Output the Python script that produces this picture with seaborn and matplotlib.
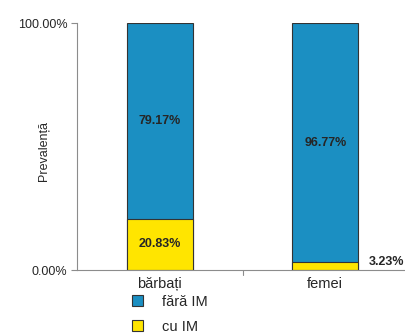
import matplotlib
matplotlib.use("Agg")
import matplotlib.pyplot as plt
from matplotlib.patches import Patch
import seaborn as sns
import pandas as pd

categories = ["bărbați", "femei"]
cu_im = [20.83, 3.23]
fara_im = [79.17, 96.77]
series_names = ["fără IM", "cu IM"]
y_ticks = [0, 100]
y_tick_labels = ["0.00%", "100.00%"]

blue = "#1b8fc2"
yellow = "#ffe500"
edge = "#333333"
axis_gray = "#8c8c8c"

sns.set_style("white")
plt.rcParams["font.family"] = ["Liberation Sans", "DejaVu Sans"]

df = pd.DataFrame({"cat": categories, "cu": cu_im, "fara": fara_im})
df["total"] = df["cu"] + df["fara"]

fig = plt.figure(figsize=(4.06, 3.34), dpi=100)
ax = fig.add_axes([0.19, 0.1916, 0.815, 0.7395])

sns.barplot(data=df, x="cat", y="total", color=blue, width=0.4,
            edgecolor=edge, linewidth=0.8, saturation=1, ax=ax)
sns.barplot(data=df, x="cat", y="cu", color=yellow, width=0.4,
            edgecolor=edge, linewidth=0.8, saturation=1, ax=ax)

ax.set_xlim(-0.5, 1.5)
ax.set_ylim(0, 100)
ax.set_yticks(y_ticks)
ax.set_yticklabels(y_tick_labels, fontsize=9)
ax.set_xticks([0, 1])
ax.set_xticklabels(categories, fontsize=10.5)
ax.tick_params(axis="x", length=0, pad=5)
ax.tick_params(axis="y", length=4, color=axis_gray, width=0.8, pad=3, left=True)
ax.set_xlabel("")
ax.set_ylabel("Prevalență", fontsize=9)
ax.yaxis.set_label_coords(-0.082, 0.48)

# separator tick between the two categories on the category axis
ax.plot([0.5, 0.5], [0, -2], color=axis_gray, lw=0.8, clip_on=False)

for s in ["top", "right"]:
    ax.spines[s].set_visible(False)
for s in ["left", "bottom"]:
    ax.spines[s].set_color(axis_gray)
    ax.spines[s].set_linewidth(0.8)

# value labels
for i, (c, f) in enumerate(zip(cu_im, fara_im)):
    ax.text(i, c + f / 2, f"{f:.2f}%", ha="center", va="center",
            fontsize=9, fontweight="bold")
ax.text(0, cu_im[0] / 2, f"{cu_im[0]:.2f}%", ha="center", va="center",
        fontsize=9, fontweight="bold")
ax.text(1.26, cu_im[1] / 2 + 1.5, f"{cu_im[1]:.2f}%", ha="left", va="center",
        fontsize=9, fontweight="bold")

handles = [Patch(facecolor=blue, edgecolor=edge, lw=0.8),
           Patch(facecolor=yellow, edgecolor=edge, lw=0.8)]
fig.legend(handles, series_names, loc="upper left", bbox_to_anchor=(0.31, 0.135),
           frameon=False, fontsize=10.5, handlelength=0.75, handleheight=0.75,
           handletextpad=1.3, labelspacing=0.75, borderaxespad=0)

fig.savefig("out.png", dpi=100)
